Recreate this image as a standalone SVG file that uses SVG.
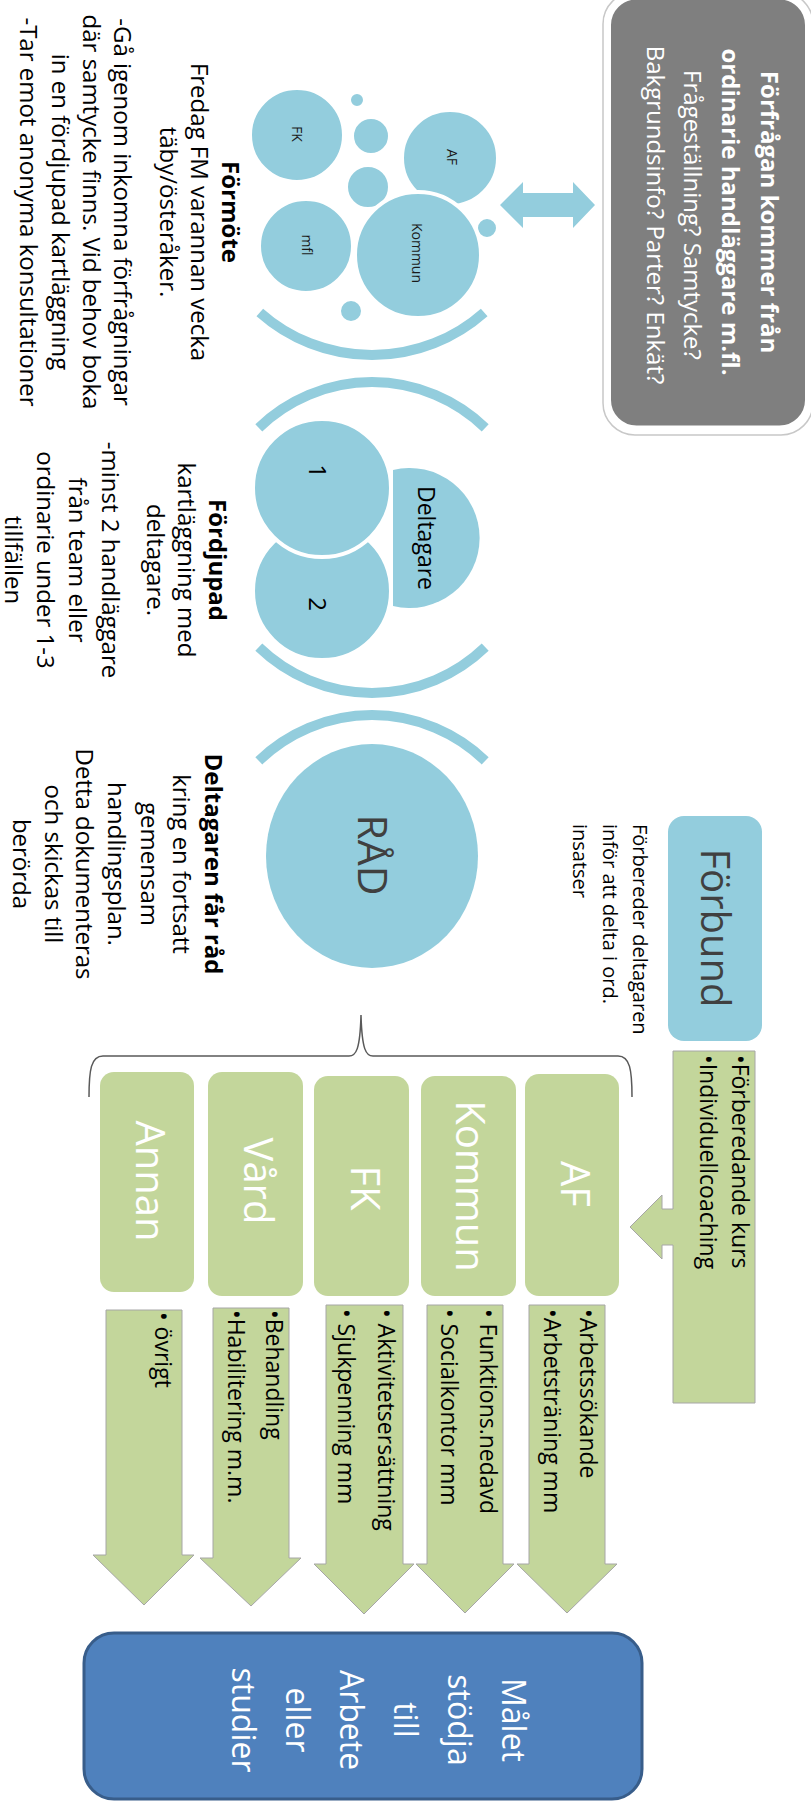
<svg xmlns="http://www.w3.org/2000/svg" width="811" height="1802" viewBox="0 0 811 1802">
<style>
.t{font-family:"Open Sans","DejaVu Sans",sans-serif;font-size:24px;fill:#000}
.b{font-weight:bold}
.w{fill:#fff}
.dk{fill:#404040}
.lb{fill:#93CDDD}
.bub{fill:#93CDDD;stroke:#fff;stroke-width:4}
.arc{fill:none;stroke:#93CDDD;stroke-width:10}
.gbox{fill:#C3D69B}
.garr{fill:#C3D69B;stroke:#A6A6A6;stroke-width:1}
.bl{font-size:23px}
.lab{font-size:40px;fill:#fff}
.sm{font-size:14px;fill:#1a1a1a}
.f20{font-size:20px}
.f23{font-size:23px}
.f32{font-size:32px}
.f40{font-size:40px}
.f41{font-size:41px}
</style>
<rect width="811" height="1802" fill="#fff"/>

<g id="request">
  <rect x="603" y="-8" width="210" height="443" rx="32" fill="none" stroke="#C8C8C8" stroke-width="1.5"/>
  <rect x="607.5" y="-4" width="201" height="433" rx="29" fill="#7F7F7F" stroke="#fff" stroke-width="7"/>
  <text class="t b w" text-anchor="middle" transform="translate(761,212) rotate(90)">Förfrågan kommer från</text>
  <text class="t b w" text-anchor="middle" transform="translate(722,212) rotate(90)">ordinarie handläggare m.fl.</text>
  <text class="t w" text-anchor="middle" transform="translate(684,215) rotate(90)">Frågeställning?  Samtycke?</text>
  <text class="t w" text-anchor="middle" transform="translate(647,215) rotate(90)">Bakgrundsinfo? Parter? Enkät?</text>
</g>

<g id="formote-cluster">
  <circle class="bub" cx="297" cy="135" r="47"/>
  <circle class="bub" cx="357" cy="100" r="8"/>
  <circle class="bub" cx="371" cy="136" r="19"/>
  <circle class="bub" cx="368" cy="187" r="22"/>
  <circle class="bub" cx="450" cy="158" r="48"/>
  <circle class="bub" cx="487" cy="228" r="11"/>
  <circle class="bub" cx="306" cy="246" r="47"/>
  <circle class="bub" cx="351" cy="311" r="12"/>
  <circle class="bub" cx="418" cy="255" r="63"/>
  <text class="t sm" text-anchor="middle" transform="translate(292,134) rotate(90)">FK</text>
  <text class="t sm" text-anchor="middle" transform="translate(447,157) rotate(90)">AF</text>
  <text class="t sm" text-anchor="middle" transform="translate(302,245) rotate(90)">mfl</text>
  <text class="t sm" text-anchor="middle" transform="translate(412,253) rotate(90)">Kommun</text>
  <path class="arc" d="M259.8,312.4 A169,169 0 0 0 484.2,312.4"/>
</g>

<g id="formote-text">
  <text class="t b" text-anchor="middle" transform="translate(222,212) rotate(90)">Förmöte</text>
  <text class="t" text-anchor="middle" transform="translate(191,212) rotate(90)">Fredag FM varannan vecka</text>
  <text class="t" text-anchor="middle" transform="translate(160,212) rotate(90)">täby/österåker.</text>
  <text class="t" text-anchor="middle" transform="translate(114,212) rotate(90)">-Gå igenom inkomna förfrågningar</text>
  <text class="t" text-anchor="middle" transform="translate(83,212) rotate(90)">där samtycke finns. Vid behov boka</text>
  <text class="t" text-anchor="middle" transform="translate(52,212) rotate(90)">in en fördjupad kartläggning</text>
  <text class="t" text-anchor="middle" transform="translate(20,212) rotate(90)">-Tar emot anonyma konsultationer</text>
</g>

<g id="fordjupad">
  <path class="arc" d="M258.8,427.8 A163,163 0 0 1 485.2,427.8"/>
  <path class="lb" d="M393,470 A70,70 0 1 1 393,606 Z"/>
  <circle class="bub" cx="322" cy="591" r="69"/>
  <circle class="bub" cx="322" cy="488" r="69"/>
  <text class="t f23" text-anchor="middle" transform="translate(418,538) rotate(90)">Deltagare</text>
  <text class="t" text-anchor="middle" transform="translate(309,471) rotate(90)">1</text>
  <text class="t" text-anchor="middle" transform="translate(309,604) rotate(90)">2</text>
  <path class="arc" d="M258.8,647.2 A163,163 0 0 0 485.2,647.2"/>
</g>

<g id="fordjupad-text">
  <text class="t b" text-anchor="middle" transform="translate(209,560) rotate(90)">Fördjupad</text>
  <text class="t" text-anchor="middle" transform="translate(178,560) rotate(90)">kartläggning med</text>
  <text class="t" text-anchor="middle" transform="translate(147,560) rotate(90)">deltagare.</text>
  <text class="t" text-anchor="middle" transform="translate(102,560) rotate(90)">-minst 2 handläggare</text>
  <text class="t" text-anchor="middle" transform="translate(69,560) rotate(90)">från team eller</text>
  <text class="t" text-anchor="middle" transform="translate(37,560) rotate(90)">ordinarie under 1-3</text>
  <text class="t" text-anchor="middle" transform="translate(5,560) rotate(90)">tillfällen</text>
</g>

<g id="rad">
  <path class="arc" d="M258.8,760.8 A163,163 0 0 1 485.2,760.8"/>
  <ellipse class="lb" cx="372" cy="856" rx="106" ry="112"/>
  <text class="t dk f41" text-anchor="middle" transform="translate(358,855) rotate(90)">RÅD</text>
</g>

<g id="rad-text">
  <text class="t b" text-anchor="middle" transform="translate(205,864) rotate(90)">Deltagaren får råd</text>
  <text class="t" text-anchor="middle" transform="translate(173,864) rotate(90)">kring en fortsatt</text>
  <text class="t" text-anchor="middle" transform="translate(141,864) rotate(90)">gemensam</text>
  <text class="t" text-anchor="middle" transform="translate(108,864) rotate(90)">handlingsplan.</text>
  <text class="t" text-anchor="middle" transform="translate(76,864) rotate(90)">Detta dokumenteras</text>
  <text class="t" text-anchor="middle" transform="translate(45,864) rotate(90)">och skickas till</text>
  <text class="t" text-anchor="middle" transform="translate(13,864) rotate(90)">berörda</text>
</g>

<g id="forbund">
  <rect class="lb" x="668" y="816" width="94" height="225" rx="16"/>
  <text class="t dk f40" text-anchor="middle" transform="translate(701,928) rotate(90)">Förbund</text>
  <text class="t f20" transform="translate(633,824) rotate(90)">Förbereder deltagaren</text>
  <text class="t f20" transform="translate(603,824) rotate(90)">inför att delta i ord.</text>
  <text class="t f20" transform="translate(573,824) rotate(90)">insatser</text>
</g>

<g id="forbund-insatser">
  <path class="garr" d="M673,1051 L755,1051 L755,1403 L673,1403 L673,1245 L662,1245 L662,1259 L630,1227 L662,1195 L662,1209 L673,1209 Z"/>
  <text class="t bl" transform="translate(732,1055) rotate(90)">•Förberedande kurs</text>
  <text class="t bl" transform="translate(700,1055) rotate(90)">•Individuellcoaching</text>
</g>

<g id="af">
  <rect class="gbox" x="525" y="1074" width="94" height="222" rx="14"/>
  <text class="t lab" text-anchor="middle" transform="translate(561,1184) rotate(90)">AF</text>
  <path class="garr" d="M529,1305 L605,1305 L605,1564 L617,1564 L567,1613 L517,1564 L529,1564 Z"/>
  <text class="t bl" transform="translate(580,1309) rotate(90)">•Arbetssökande</text>
  <text class="t bl" transform="translate(544,1309) rotate(90)">•Arbetsträning mm</text>
</g>

<g id="kommun">
  <rect class="gbox" x="421" y="1076" width="95" height="220" rx="14"/>
  <text class="t lab" text-anchor="middle" transform="translate(456,1186) rotate(90)">Kommun</text>
  <path class="garr" d="M427,1305 L503,1305 L503,1564 L514,1564 L465,1613 L416,1564 L427,1564 Z"/>
  <text class="t bl" transform="translate(480,1309) rotate(90)">• Funktions.nedavd</text>
  <text class="t bl" transform="translate(441,1309) rotate(90)">• Socialkontor mm</text>
</g>

<g id="fk">
  <rect class="gbox" x="314" y="1076" width="95" height="220" rx="14"/>
  <text class="t lab" text-anchor="middle" transform="translate(351,1188) rotate(90)">FK</text>
  <path class="garr" d="M326,1305 L403,1305 L403,1564 L414,1564 L364,1614 L314,1564 L326,1564 Z"/>
  <text class="t bl" transform="translate(378,1309) rotate(90)">• Aktivitetsersättning</text>
  <text class="t bl" transform="translate(338,1309) rotate(90)">• Sjukpenning mm</text>
</g>

<g id="vard">
  <rect class="gbox" x="208" y="1072" width="95" height="224" rx="14"/>
  <text class="t lab" text-anchor="middle" transform="translate(244,1181) rotate(90)">Vård</text>
  <path class="garr" d="M213,1308 L289,1308 L289,1558 L301,1558 L251,1606 L200,1558 L213,1558 Z"/>
  <text class="t bl" transform="translate(266,1310) rotate(90)">•Behandling</text>
  <text class="t bl" transform="translate(228,1310) rotate(90)">•Habilitering m.m.</text>
</g>

<g id="annan">
  <rect class="gbox" x="100" y="1072" width="94" height="220" rx="14"/>
  <text class="t lab" text-anchor="middle" transform="translate(136,1181) rotate(90)">Annan</text>
  <path class="garr" d="M106,1310 L182,1310 L182,1555 L194,1555 L144,1605 L93,1555 L106,1555 Z"/>
  <text class="t bl" transform="translate(155,1312) rotate(90)">• övrigt</text>
</g>

<g id="malet">
  <rect x="84" y="1633" width="558" height="166" rx="30" fill="#4F81BD" stroke="#385D8A" stroke-width="3"/>
  <text class="t w f32" text-anchor="middle" transform="translate(502,1720) rotate(90)">Målet</text>
  <text class="t w f32" text-anchor="middle" transform="translate(448,1720) rotate(90)">stödja</text>
  <text class="t w f32" text-anchor="middle" transform="translate(394,1720) rotate(90)">till</text>
  <text class="t w f32" text-anchor="middle" transform="translate(340,1720) rotate(90)">Arbete</text>
  <text class="t w f32" text-anchor="middle" transform="translate(286,1720) rotate(90)">eller</text>
  <text class="t w f32" text-anchor="middle" transform="translate(232,1720) rotate(90)">studier</text>
</g>

<g id="connectors">
  <path class="lb" d="M500,205 L523,182 L523,193 L573,193 L573,182 L595,205 L573,228 L573,217 L523,217 L523,228 Z"/>
  <path d="M89,1097 C89,1070 91,1056 103,1056 L349,1056 C356,1056 360,1050 361,1015 C362,1050 366,1056 373,1056 L618,1056 C630,1056 632,1070 632,1097" fill="none" stroke="#595959" stroke-width="1.5"/>
</g>
</svg>
